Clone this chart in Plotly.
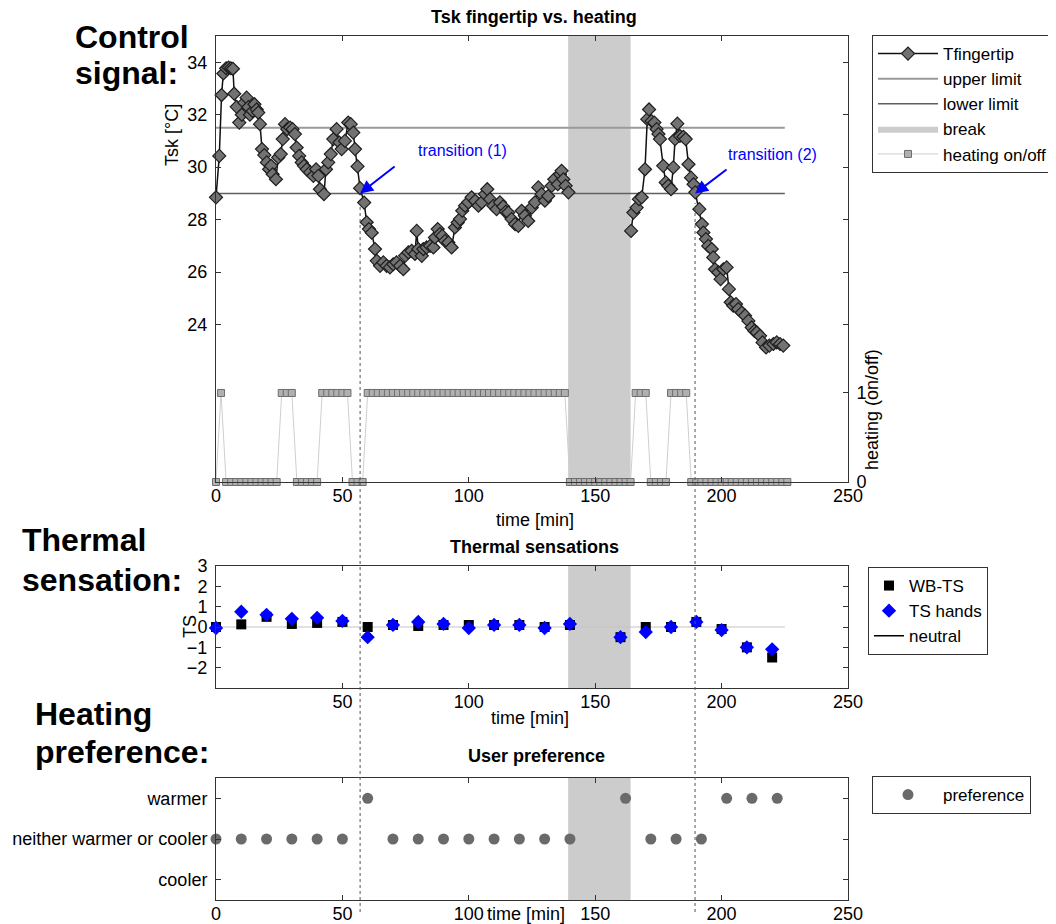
import plotly.graph_objects as go

# ---------------- data ----------------
# fingertip skin temperature (min, degC); None marks the break gap
t_tsk = [0, 1.3, 2.2, 2.9, 4.0, 5.0, 5.9, 6.7, 7.2, 8.2, 9.2, 10.2, 11.2, 12.1, 12.8, 13.4,
         14.5, 15.2, 16.1, 16.7, 17.4, 18.2, 19.1, 20.1, 21.0, 21.8, 22.4, 23.7, 24.6, 25.6,
         26.4, 27.3, 28.2, 29.3, 30.3, 31.2, 31.9, 32.9, 33.9, 34.8, 35.9, 37.2, 38.5, 39.6,
         40.5, 41.1, 42.7, 43.5, 44.4, 45.4, 46.4, 47.7, 48.8, 49.7, 51.0, 52.3, 53.3, 54.3,
         55.0, 56.0, 57.0, 58.6, 59.6, 60.5, 61.6, 62.9, 63.6, 64.9, 66.2, 67.5, 68.8, 70.1,
         71.4, 72.8, 74.1, 74.8, 76.1, 77.4, 78.7, 79.4, 80.0, 81.4, 82.0, 83.3, 84.7, 86.0,
         86.6, 87.7, 88.6, 89.5, 90.6, 91.9, 93.2, 94.5, 95.6, 96.5, 97.4, 98.5, 99.8, 101.1,
         102.5, 103.8, 105.1, 106.4, 107.3, 108.4, 109.7, 111.0, 112.3, 113.6, 114.6, 115.6,
         116.9, 118.3, 119.6, 120.9, 122.2, 123.5, 124.9, 126.2, 127.5, 128.8, 130.1, 131.4,
         132.8, 133.8, 135.2, 136.1, 136.7, 137.4, 138.3, 139.4, None,
         164.2, 165.1, 166.4, 167.3, 168.4, 169.7, 170.6, 171.3, 172.3, 173.4, 174.3, 175.0,
         175.6, 176.9, 177.9, 178.9, 180.0, 180.9, 181.6, 182.5, 183.5, 184.9, 185.8, 186.9,
         187.9, 188.9, 189.6, 191.2, 192.2, 192.8, 193.8, 194.7, 196.1, 196.7, 197.4, 198.7,
         199.6, 200.7, 202.0, 202.9, 203.6, 204.6, 205.7, 206.6, 208.0, 209.3, 210.6, 211.9,
         213.0, 213.9, 215.2, 216.2, 217.6, 218.9, 220.5, 221.8, 223.1, 224.4]
tsk = [28.85, 30.43, 32.75, 33.57, 33.77, 33.8, 33.77, 33.75, 32.8, 32.3, 31.7, 32.0, 32.46, 32.65, 32.29, 32.0,
       32.14, 32.4, 32.2, 32.08, 31.64, 30.69, 30.46, 30.18, 29.92, 30.05, 29.73, 29.54, 30.37, 30.5,
       31.07, 31.64, 31.45, 31.51, 31.45, 31.26, 30.75, 30.43, 30.18, 30.05, 29.92, 29.8, 29.67, 29.92,
       29.67, 29.16, 28.97, 29.92, 30.18, 30.5, 31.07, 31.45, 30.94, 30.69, 31.0, 31.7, 31.64, 31.32,
       30.69, 30.03, 29.2, 28.65, 27.9, 27.64, 27.5, 26.88, 26.43, 26.24, 26.37, 26.24, 26.18, 26.3,
       26.37, 26.24, 26.11, 26.62, 26.75, 26.81, 26.69, 27.57, 26.88, 26.62, 26.88, 26.94, 27.0, 26.94,
       27.32, 27.64, 27.45, 27.38, 27.19, 27.13, 26.94, 27.7, 27.89, 28.02, 28.34, 28.53, 28.66, 28.85,
       28.72, 28.53, 28.66, 28.97, 29.16, 28.78, 28.53, 28.4, 28.66, 28.5, 28.3, 28.27,
       28.02, 27.83, 27.76, 28.34, 28.15, 27.95, 28.46, 28.66, 29.23, 28.97, 28.72, 28.9,
       29.29, 29.54, 29.35, 29.73, 29.86, 29.54, 29.29, 29.04, None,
       27.57, 28.27, 28.46, 28.78, 28.85, 29.92, 31.83, 32.2, 31.76, 31.7, 31.45, 31.26,
       31.07, 30.05, 29.42, 29.29, 29.16, 29.99, 31.07, 31.66, 31.19, 31.16, 31.07, 30.11,
       29.6, 29.35, 29.04, 28.4, 27.83, 27.51, 27.26, 27.0, 26.88, 26.56, 26.11, 25.99,
       25.73, 26.11, 26.18, 25.35, 24.85, 24.72, 24.78, 24.59, 24.46, 24.34, 24.14, 23.89,
       23.76, 23.7, 23.57, 23.32, 23.13, 23.2, 23.26, 23.32, 23.26, 23.2]

# heating on/off state (sampled every 2 min)
heat_t = [0, 2, 4, 6, 8, 10, 12, 14, 16, 18, 20, 22, 24, 26, 28, 30, 32, 34, 36, 38,
          40, 42, 44, 46, 48, 50, 52, 54, 56, 58, 60, 62, 64, 66, 68, 70, 72, 74, 76, 78,
          80, 82, 84, 86, 88, 90, 92, 94, 96, 98, 100, 102, 104, 106, 108, 110, 112, 114, 116, 118,
          120, 122, 124, 126, 128, 130, 132, 134, 136, 138, 140, 142, 144, 146, 148, 150, 152, 154, 156, 158,
          160, 162, 164, 166, 168, 170, 172, 174, 176, 178, 180, 182, 184, 186, 188, 190, 192, 194, 196, 198,
          200, 202, 204, 206, 208, 210, 212, 214, 216, 218, 220, 222, 224, 226]
heat_state = [0, 1, 0, 0, 0, 0, 0, 0, 0, 0, 0, 0, 0, 1, 1, 1, 0, 0, 0, 0,
              0, 1, 1, 1, 1, 1, 1, 0, 0, 0, 1, 1, 1, 1, 1, 1, 1, 1, 1, 1,
              1, 1, 1, 1, 1, 1, 1, 1, 1, 1, 1, 1, 1, 1, 1, 1, 1, 1, 1, 1,
              1, 1, 1, 1, 1, 1, 1, 1, 1, 1, 0, 0, 0, 0, 0, 0, 0, 0, 0, 0,
              0, 0, 0, 1, 1, 1, 0, 0, 0, 0, 1, 1, 1, 1, 0, 0, 0, 0, 0, 0,
              0, 0, 0, 0, 0, 0, 0, 0, 0, 0, 0, 0, 0, 0]

limit_t = [0, 225]
upper_limit = [31.5, 31.5]
lower_limit = [29.0, 29.0]
break_t = [139.3, 164.0]
transitions = [57.0, 189.5]
transition_T = [29.0, 29.0]

# thermal sensation votes
ts_t = [0, 10, 20, 30, 40, 50, 60, 70, 80, 90, 100, 110, 120, 130, 140, 160, 170, 180, 190, 200, 210, 220]
wb_ts = [0, 0.13, 0.5, 0.15, 0.2, 0.25, 0, 0.1, 0.05, 0.1, 0.1, 0.1, 0.1, 0, 0.1, -0.5, 0, 0, 0.25, -0.1, -1.0, -1.5]
ts_hands = [-0.05, 0.75, 0.6, 0.4, 0.45, 0.3, -0.5, 0.1, 0.25, 0.15, -0.05, 0.1, 0.1, -0.05, 0.15, -0.5, -0.25, 0, 0.25, -0.15, -1.0, -1.1]
neutral_t = [0, 225]
neutral = [0, 0]

# user preference (-1 cooler, 0 neither, 1 warmer)
pref_t = [0, 10, 20, 30, 40, 50, 60, 70, 80, 90, 100, 110, 120, 130, 140, 162, 172, 182, 192, 202, 212, 222]
pref = [0, 0, 0, 0, 0, 0, 1, 0, 0, 0, 0, 0, 0, 0, 0, 1, 0, 0, 0, 1, 1, 1]
pref_labels = ["cooler", "neither warmer or cooler", "warmer"]

# ---------------- figure ----------------
# the page body adds an 8 px margin, so the figure is 8 px smaller and positions are shifted
OFF = 8
W, H = 1056 - OFF, 924 - OFF
FONT = "Liberation Sans, Arial, sans-serif"


def px(x):
    return (x - OFF) / W


def py(y):
    return 1 - (y - OFF) / H


BREAK_GREY = "#cccccc"
fig = go.Figure()

# top panel
fig.add_trace(go.Scatter(x=[break_t[0], break_t[1], break_t[1], break_t[0], break_t[0]],
                         y=[18, 18, 35, 35, 18], fill="toself", fillcolor=BREAK_GREY,
                         mode="lines", line=dict(width=0, color=BREAK_GREY), name="break",
                         legend="legend", legendrank=4, hoverinfo="skip", xaxis="x", yaxis="y"))
fig.add_trace(go.Scatter(x=limit_t, y=upper_limit, mode="lines", line=dict(color="#9a9a9a", width=2),
                         name="upper limit", legend="legend", legendrank=2, xaxis="x", yaxis="y"))
fig.add_trace(go.Scatter(x=limit_t, y=lower_limit, mode="lines", line=dict(color="#606060", width=1.5),
                         name="lower limit", legend="legend", legendrank=3, xaxis="x", yaxis="y"))
fig.add_trace(go.Scatter(x=t_tsk, y=tsk, mode="lines+markers", connectgaps=False,
                         line=dict(color="#111111", width=1.5),
                         marker=dict(symbol="diamond", size=10, color="#727272",
                                     line=dict(color="#1e1e1e", width=1.2)),
                         name="Tfingertip", legend="legend", legendrank=1, cliponaxis=False,
                         xaxis="x", yaxis="y"))
fig.add_trace(go.Scatter(x=heat_t, y=heat_state, mode="lines+markers",
                         line=dict(color="#cfcfcf", width=1),
                         marker=dict(symbol="square", size=7, color="#b0b0b0",
                                     line=dict(color="#6e6e6e", width=1)),
                         name="heating on/off", legend="legend", legendrank=5, cliponaxis=False,
                         xaxis="x", yaxis="y2"))

# thermal sensation panel
fig.add_trace(go.Scatter(x=neutral_t, y=neutral, mode="lines", line=dict(color="#c4c4c4", width=1.2),
                         showlegend=False, xaxis="x2", yaxis="y3", hoverinfo="skip"))
fig.add_trace(go.Scatter(x=ts_t, y=wb_ts, mode="markers",
                         marker=dict(symbol="square", size=10, color="black"),
                         name="WB-TS", legend="legend2", legendrank=1, cliponaxis=False,
                         xaxis="x2", yaxis="y3"))
fig.add_trace(go.Scatter(x=ts_t, y=ts_hands, mode="markers",
                         marker=dict(symbol="diamond", size=11, color="#0000ff"),
                         name="TS hands", legend="legend2", legendrank=2, cliponaxis=False,
                         xaxis="x2", yaxis="y3"))
fig.add_trace(go.Scatter(x=[None], y=[None], mode="lines", line=dict(color="black", width=1.5),
                         name="neutral", legend="legend2", legendrank=3, xaxis="x2", yaxis="y3"))

# preference panel
fig.add_trace(go.Scatter(x=pref_t, y=pref, mode="markers",
                         marker=dict(symbol="circle", size=11, color="#6a6a6a"),
                         name="preference", legend="legend3", cliponaxis=False,
                         xaxis="x3", yaxis="y4"))

XDOM = [px(216), px(848)]
TICKF = dict(family=FONT, size=18, color="black")
base_ax = dict(showline=True, linecolor="#333333", linewidth=1, mirror="ticks", ticks="inside",
               ticklen=5, tickcolor="#333333", showgrid=False, zeroline=False, tickfont=TICKF,
               automargin=False)
xax = dict(base_ax, ticklabelstandoff=-3)
yax = dict(base_ax, ticklabelstandoff=4)
LEGF = dict(family=FONT, size=17, color="black")

fig.update_layout(
    width=W, height=H, margin=dict(l=0, r=0, t=0, b=0, autoexpand=False),
    paper_bgcolor="white", plot_bgcolor="white",
    font=dict(family=FONT, size=18, color="black"),
    xaxis=dict(xax, domain=XDOM, anchor="y", range=[0, 250], tickvals=[0, 50, 100, 150, 200, 250]),
    yaxis=dict(yax, domain=[py(482), py(36)], anchor="x", range=[18, 35],
               tickvals=[24, 26, 28, 30, 32, 34]),
    yaxis2=dict(yax, overlaying="y", side="right", anchor="x", range=[0, 5.01], tickvals=[0, 1],
                mirror=False),
    xaxis2=dict(xax, domain=XDOM, anchor="y3", range=[0, 250], tickvals=[50, 100, 150, 200, 250]),
    yaxis3=dict(yax, domain=[py(688), py(566)], anchor="x2", range=[-3, 3],
                tickvals=[-2, -1, 0, 1, 2, 3]),
    xaxis3=dict(xax, domain=XDOM, anchor="y4", range=[0, 250], tickvals=[0, 50, 100, 150, 200, 250]),
    yaxis4=dict(yax, domain=[py(900), py(778)], anchor="x3", range=[-1.5, 1.5],
                tickvals=[-1, 0, 1], ticktext=pref_labels),
    legend=dict(x=px(872), y=py(35), xanchor="left", yanchor="top", bordercolor="#333333",
                borderwidth=1, bgcolor="white", font=LEGF, traceorder="normal",
                tracegroupgap=0, itemwidth=60),
    legend2=dict(x=px(868), y=py(567), xanchor="left", yanchor="top", bordercolor="#333333",
                 borderwidth=1, bgcolor="white", font=LEGF),
    legend3=dict(x=px(872), y=py(776), xanchor="left", yanchor="top", bordercolor="#333333",
                 borderwidth=1, bgcolor="white", font=LEGF, itemwidth=60),
    showlegend=True,
)

shapes = []
# break bands in lower panels
shapes.append(dict(type="rect", xref="x2", yref="y3 domain", x0=break_t[0], x1=break_t[1], y0=0, y1=1,
                   fillcolor=BREAK_GREY, line=dict(width=0), layer="below"))
shapes.append(dict(type="rect", xref="x3", yref="y4 domain", x0=break_t[0], x1=break_t[1], y0=0, y1=1,
                   fillcolor=BREAK_GREY, line=dict(width=0), layer="below"))
# transition dotted lines through all panels
for tt in transitions:
    shapes.append(dict(type="line", xref="x", yref="paper", x0=tt, x1=tt, y0=py(912), y1=py(203),
                       line=dict(color="#555555", width=1, dash="dot"), layer="above"))
fig.update_layout(shapes=shapes)

ann = []
TITLEF = dict(family=FONT, size=18, color="black")
for txt, x, y in [("<b>Tsk fingertip vs. heating</b>", 534, 17),
                  ("<b>Thermal sensations</b>", 534, 547),
                  ("<b>User preference</b>", 536, 756)]:
    ann.append(dict(text=txt, x=px(x), y=py(y), xref="paper", yref="paper", showarrow=False,
                    xanchor="center", yanchor="middle", font=TITLEF))
LABF = dict(family=FONT, size=18, color="black")
for txt, x, y in [("time [min]", 535, 520), ("time [min]", 530, 718), ("time [min]", 526, 914)]:
    ann.append(dict(text=txt, x=px(x), y=py(y), xref="paper", yref="paper", showarrow=False,
                    xanchor="center", yanchor="middle", font=LABF))
for txt, x, y in [("Tsk [°C]", 172, 135), ("heating (on/off)", 872, 410), ("TS", 190, 627)]:
    ann.append(dict(text=txt, x=px(x), y=py(y), xref="paper", yref="paper", showarrow=False,
                    xanchor="center", yanchor="middle", textangle=-90, font=LABF))
BIGF = dict(family=FONT, size=32, color="black")
for txt, x, y in [("Control", 73, 37), ("signal:", 73, 73), ("Thermal", 20, 540), ("sensation:", 20, 580),
                  ("Heating", 33, 714), ("preference:", 33, 752)]:
    ann.append(dict(text="<b>%s</b>" % txt, x=px(x), y=py(y), xref="paper", yref="paper",
                    showarrow=False, xanchor="left", yanchor="middle", font=BIGF))
# transition arrows and labels
BLUE = "#0000ff"
for tt, TT, lab, lx, ly, ax, ay in [(transitions[0], transition_T[0], "transition (1)", 97.5, 30.62, 36, -28),
                                   (transitions[1], transition_T[1], "transition (2)", 220.0, 30.5, 33, -25)]:
    ann.append(dict(text="", x=tt, y=TT, xref="x", yref="y", ax=ax, ay=ay, showarrow=True,
                    arrowhead=2, arrowsize=1.3, arrowwidth=2, arrowcolor=BLUE))
    ann.append(dict(text=lab, x=lx, y=ly, xref="x", yref="y", showarrow=False,
                    xanchor="center", yanchor="middle", font=dict(family=FONT, size=16, color=BLUE)))
fig.update_layout(annotations=ann)

fig.write_html("out.html")
